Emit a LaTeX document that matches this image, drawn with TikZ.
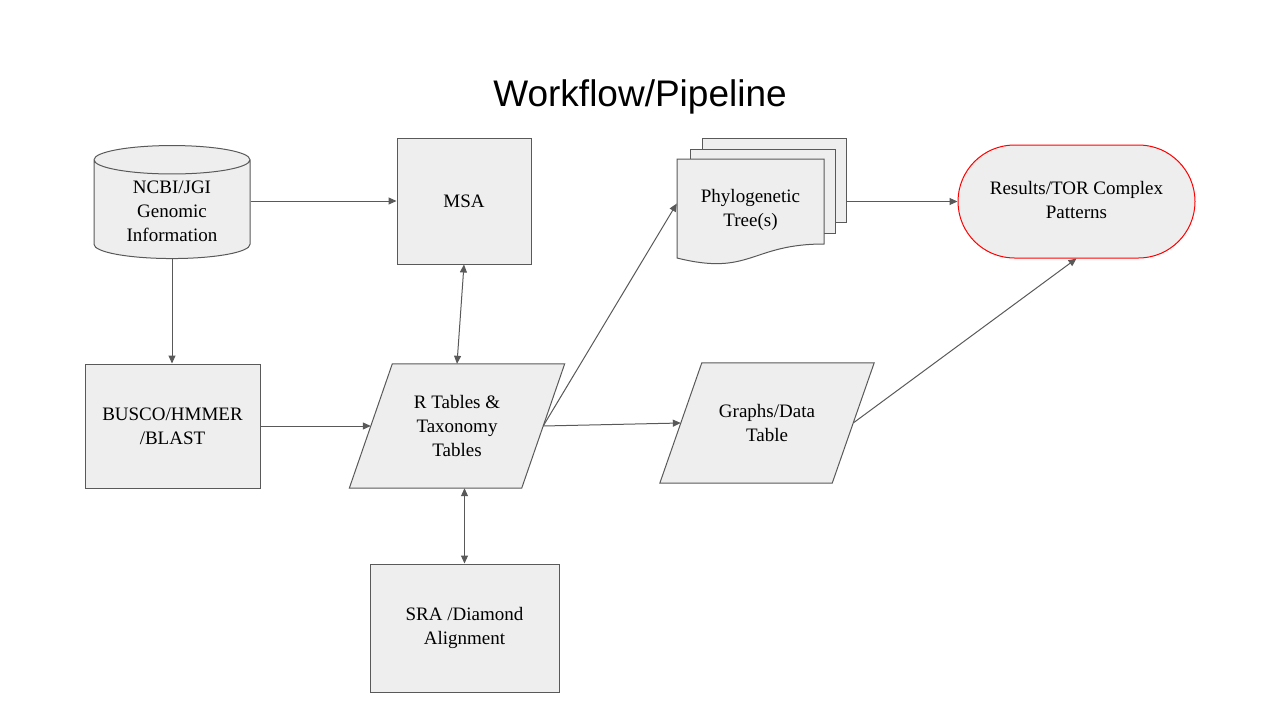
\documentclass[tikz,border=0pt]{standalone}
\usepackage{fontspec}
\setmainfont{Liberation Serif}
\newfontfamily\titlefont{Liberation Sans}
\usetikzlibrary{arrows.meta, shapes.geometric, shapes.misc, backgrounds}
\definecolor{boxgray}{RGB}{238,238,238}
\definecolor{edgegray}{RGB}{89,89,89}
\definecolor{resultred}{RGB}{255,0,0}

\begin{document}
\begin{tikzpicture}[x=1pt, y=-1pt,
    box/.style={draw=edgegray, fill=boxgray, line width=1pt, align=center,
                inner sep=2pt, font=\fontsize{19}{24}\selectfont},
    slanted/.style={align=center, font=\fontsize{19}{24}\selectfont},
    outline/.style={draw=edgegray, fill=boxgray, line width=1pt},
    flow/.style={draw=edgegray, line width=1pt, -{Triangle[length=8pt, width=7pt]}},
    both/.style={draw=edgegray, line width=1pt,
                 {Triangle[length=8pt, width=7pt]}-{Triangle[length=8pt, width=7pt]}}]

\useasboundingbox (0,0) rectangle (1280,720);

% Title
\node[font=\titlefont\fontsize{37}{44}\selectfont] (title) at (640,97) {Workflow/Pipeline};

% Inputs
\node[box, cylinder, shape border rotate=90, aspect=0.3,
      minimum width=156pt, minimum height=113pt] (ncbi) at (172,211)
      {NCBI/JGI\\Genomic\\Information};
\node[box, minimum width=134pt, minimum height=126pt] (msa) at (464,201) {MSA};
\node[box, minimum width=175pt, minimum height=124pt] (busco) at (172.5,426)
      {BUSCO/HMMER\\/BLAST};

% Tables (slanted outlines go behind the text)
\node[slanted, minimum width=172pt, minimum height=124pt] (rtab) at (457,426)
      {R Tables \&\\Taxonomy\\Tables};
\node[box, minimum width=189pt, minimum height=128pt] (sra) at (464.5,628)
      {SRA /Diamond\\Alignment};
\node[slanted, minimum width=172pt, minimum height=120pt] (graphs) at (767,423)
      {Graphs/Data\\Table};
\begin{scope}[on background layer]
  \foreach \n/\s in {rtab/21.5, graphs/21}
    \path[outline] ([xshift=-\s pt]\n.south west) -- ([xshift=-\s pt]\n.south east)
      -- ([xshift=\s pt]\n.north east) -- ([xshift=\s pt]\n.north west) -- cycle;
\end{scope}

% Phylogenetic tree(s), a stack of pages
\node[box, minimum width=144pt, minimum height=84pt] (phyloback) at (774,180) {};
\node[box, minimum width=145pt, minimum height=84pt] (phylomid) at (762.5,191) {};
\path[outline] (677,159) -- (824,159) -- (824,244)
  .. controls (750.5,244) and (750.5,276.4) .. (677,258) -- cycle;
\node[slanted, minimum width=147pt, minimum height=99pt] (phylo) at (750.5,209.5)
      {Phylogenetic\\Tree(s)};

% Results
\node[box, draw=resultred, rounded rectangle, minimum width=241pt,
      minimum height=113pt] (results) at (1076.5,201.5)
      {Results/TOR Complex\\Patterns\vphantom{p}};

% Arrows
\draw[flow] (ncbi.east |- msa.west) -- (msa.west);
\draw[flow] (ncbi.south) -- (ncbi.south |- busco.north);
\draw[flow] (busco) -- (rtab);
\draw[both] (msa.south) -- (rtab.north);
\draw[both] (sra.north |- rtab.south) -- (sra.north);
\draw[flow] (rtab.east) -- ([yshift=6pt]phylo.west);
\draw[flow] (rtab.east) -- (graphs.west);
\draw[flow] (phyloback.east |- results.west) -- (results.west);
\draw[flow] (graphs.east) -- (results.south);

\end{tikzpicture}
\end{document}
